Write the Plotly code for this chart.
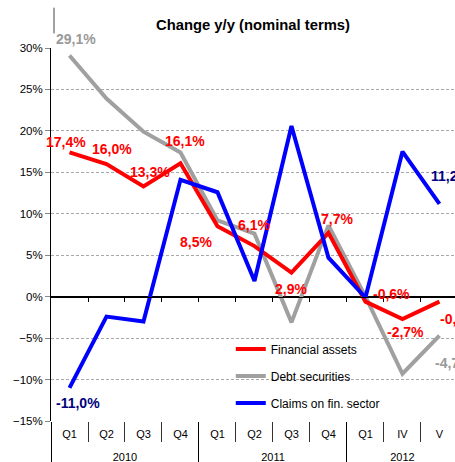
import plotly.graph_objects as go

# --- DATA ---
years = ["2010"] * 4 + ["2011"] * 4 + ["2012"] * 3
periods = ["Q1", "Q2", "Q3", "Q4", "Q1", "Q2", "Q3", "Q4", "Q1", "IV", "V"]

financial_assets = [17.4, 16.0, 13.3, 16.1, 8.5, 6.1, 2.9, 7.7, -0.6, -2.7, -0.6]
debt_securities = [29.1, 23.9, 19.9, 17.4, 9.2, 7.6, -3.1, 8.6, 0.0, -9.3, -4.7]
claims_fin_sector = [-11.0, -2.4, -3.0, 14.1, 12.6, 1.9, 20.6, 4.7, -0.1, 17.5, 11.2]

# which points carry a value label
fa_labelled = list(range(11))
ds_labelled = [0, 10]
cl_labelled = [0, 10]

# --- STYLE ---
FONT = "Liberation Sans, Arial, sans-serif"
RED, GREY, BLUE = "#FF0000", "#A0A0A0", "#0000FF"
X_RANGE = [-0.5, 10.42]   # right edge of the plot is cut off, as in the original

# label offsets (px) for each labelled point: (dx, dy up)
fa_offsets = [(-4, 10), (6, 15), (7, 14), (5, 22), (-21, -16), (0, 21),
              (0, -16), (9, 14), (26, 8), (3, -13), (19, -17)]
ds_offsets = [(6, 16), (14, -27)]
cl_offsets = [(8, -15), (11, 28)]

# blank line above the year row pushes it further below the quarters
x = [["<br>" + y for y in years], periods]

fig = go.Figure()
fig.add_trace(go.Scatter(x=x, y=debt_securities, name="Debt securities", mode="lines",
                         line=dict(color=GREY, width=4), legendgroup="b", legendrank=2))
fig.add_trace(go.Scatter(x=x, y=financial_assets, name="Financial assets", mode="lines",
                         line=dict(color=RED, width=4), legendgroup="a", legendrank=1))
fig.add_trace(go.Scatter(x=x, y=claims_fin_sector, name="Claims on fin. sector", mode="lines",
                         line=dict(color=BLUE, width=4), legendgroup="c", legendrank=3))


def pct(v):
    return f"{v:.1f}%".replace(".", ",")


def add_labels(values, idx, offsets, color):
    for i, (dx, dy) in zip(idx, offsets):
        fig.add_annotation(x=i, y=values[i], xref="x2", yref="y", text=f"<b>{pct(values[i])}</b>",
                           showarrow=False, xshift=dx, yshift=dy,
                           font=dict(family=FONT, size=14, color=color))


add_labels(financial_assets, fa_labelled, fa_offsets, RED)
add_labels(debt_securities, ds_labelled, ds_offsets, "#999999")
add_labels(claims_fin_sector, cl_labelled, cl_offsets, "#000080")

# stray grey stroke at top-left of the original crop
fig.add_shape(type="line", xref="paper", yref="paper", x0=0.0075, x1=0.0075, y0=1.039, y1=1.108,
              line=dict(color="#A0A0A0", width=2))

fig.update_layout(
    width=455, height=462,
    margin=dict(l=51, r=0, t=48, b=41, autoexpand=False),
    paper_bgcolor="white", plot_bgcolor="white",
    font=dict(family=FONT, size=11, color="black"),
    title=dict(text="<b>Change y/y (nominal terms)</b>", x=0.5, xref="paper",
               y=1 - 25 / 462, yanchor="middle", font=dict(size=14.8, color="black"),
               automargin=False),
    showlegend=True,
    legend=dict(x=0.445, y=0.232, xanchor="left", yanchor="top", bgcolor="rgba(0,0,0,0)",
                font=dict(size=12, color="black"), tracegroupgap=8, traceorder="grouped"),
    xaxis=dict(type="multicategory", range=X_RANGE, showgrid=False, showline=False, zeroline=False,
               ticks="outside", tickson="boundaries", ticklen=20, tickcolor="#333",
               ticklabelstandoff=5,
               showdividers=True, dividercolor="black", dividerwidth=1, automargin=False,
               tickfont=dict(size=11, color="black")),
    xaxis2=dict(type="linear", range=X_RANGE, overlaying="x", anchor="free", position=15 / 45,
                showgrid=False, zeroline=False, showline=True, linecolor="black", linewidth=1,
                ticks="outside", ticklen=4, tickcolor="black", automargin=False,
                tickvals=[i + 0.5 for i in range(10)], showticklabels=False),
    yaxis=dict(range=[-15, 30], dtick=5, ticksuffix="%", showline=True, linecolor="black",
               ticks="outside", ticklen=5, tickcolor="#888", automargin=False,
               gridcolor="#A8A8A8", griddash="3px,2px", gridwidth=1,
               zeroline=True, zerolinecolor="black", zerolinewidth=1,
               tickfont=dict(size=11.5, color="black")),
)

# the page's default body margin would push the chart 8px off
fig.write_html("out.html", config={"displayModeBar": False},
               post_script="document.body.style.margin='0';")
